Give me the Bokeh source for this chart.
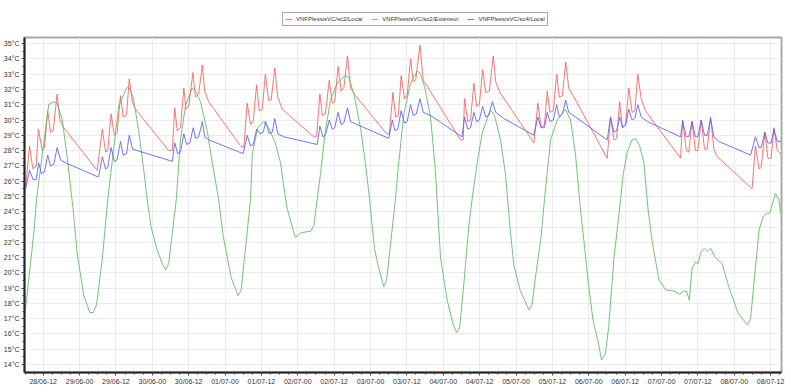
from bokeh.plotting import figure
from bokeh.layouts import column
from bokeh.models import Range1d, FixedTicker, PrintfTickFormatter, Legend, LegendItem, ColumnDataSource
from bokeh.embed import file_html
from bokeh.resources import INLINE

# hours since 28/06 00:00
red_h = [6.2,7.5,8.6,9.7,10.4,11.7,12.4,13.5,14.4,15.3,16.6,17.5,18.8,29.8,31.5,32.6,33.3,34.4,35.5,36.4,37.5,38.4,39.5,40.4,41.4,42.5,
         53.4,54.6,55.4,56.2,57.3,58.4,59.1,60.0,61.4,62.2,63.3,64.5,65.3,66.6,77.1,78.2,79.3,80.4,81.3,82.4,83.3,84.3,85.3,86.4,87.2,88.4,89.4,90.9,
         101.3,102.2,103.3,104.1,105.1,106.4,107.4,108.2,109.3,110.3,111.2,112.4,113.4,115.0,125.3,126.2,127.4,128.3,129.2,130.1,131.2,132.1,133.2,134.1,134.9,136.3,137.4,138.7,
         149.7,150.6,151.0,152.1,153.0,154.1,155.0,155.9,157.0,158.0,159.2,160.5,161.3,162.7,173.9,175.2,176.3,177.4,178.3,179.2,180.3,181.4,182.3,183.3,184.4,185.4,187.1,
         198.1,199.2,200.3,201.2,202.2,203.1,204.2,205.2,206.3,207.2,208.2,209.3,210.7,222.3,223.0,224.2,225.0,226.1,227.2,228.0,229.1,230.2,231.1,232.2,233.3,234.4,
         245.9,247.0,248.2,248.9,250.1,251.1,252.2,253.1,254.2,255.3]
red_t = [25.6,28.3,26.8,27.0,29.4,28.0,28.2,30.6,29.2,29.3,31.7,30.0,29.5,26.7,29.4,27.9,28.0,30.4,29.0,29.2,31.6,30.2,30.3,32.7,31.2,30.7,
         28.0,28.0,30.8,29.3,29.5,32.1,30.7,30.9,33.1,31.5,31.7,33.6,31.9,31.2,28.3,28.2,31.1,29.7,29.9,32.3,30.6,30.7,33.0,31.3,31.3,33.4,31.5,30.7,
         28.9,28.9,31.7,30.3,30.4,32.6,31.1,31.2,33.5,31.9,32.1,34.2,32.1,31.6,29.1,29.1,31.8,30.2,30.3,32.9,31.4,31.6,34.0,32.5,32.6,34.9,32.6,32.2,
         28.7,28.7,31.4,29.9,30.0,32.4,30.9,31.0,33.3,31.8,31.9,34.2,32.5,31.8,28.5,31.1,29.5,29.7,31.9,30.5,30.6,33.0,31.5,31.6,33.8,32.1,31.5,
         27.5,30.2,28.7,28.8,31.2,29.5,29.7,32.1,30.5,30.6,33.0,31.4,30.6,27.5,30.0,28.0,27.9,29.9,28.0,28.0,30.0,28.1,28.1,30.2,28.1,27.6,
         25.5,28.3,26.8,26.9,29.2,27.5,27.5,29.5,28.0,27.8]

green_h = [5.8,7.2,8.9,9.8,12.2,13.8,15.5,16.6,18.3,19.9,21.9,23.2,25.4,27.4,28.5,29.6,31.5,33.3,35.3,36.9,39.5,40.2,41.7,43.5,45.2,46.3,47.6,49.6,51.3,52.4,53.4,54.6,55.9,
           57.3,59.0,61.2,62.3,63.9,66.1,67.8,69.9,71.4,74.0,76.3,77.3,78.7,80.4,81.0,82.8,84.8,86.4,88.6,90.3,91.4,92.5,95.2,96.9,99.1,100.2,101.3,102.4,103.5,105.1,106.8,
           109.0,111.7,112.8,114.5,116.7,118.3,119.7,120.6,121.3,122.7,124.4,125.3,126.4,128.2,129.3,131.0,133.2,135.4,136.3,137.8,139.8,141.4,143.1,145.3,147.3,148.4,149.4,
           150.8,152.4,153.5,155.2,156.8,159.0,159.8,160.9,162.9,164.5,166.2,167.3,169.3,172.2,173.3,174.4,176.3,177.4,179.4,181.6,184.3,186.0,187.6,189.3,190.4,192.0,193.5,
           195.0,196.2,197.5,198.6,200.3,202.5,203.4,204.7,206.3,207.4,208.8,210.2,211.6,212.9,215.1,217.3,220.1,222.0,223.2,224.3,225.2,226.1,227.2,228.0,229.1,230.2,231.1,
           232.2,233.8,236.0,238.2,241.2,244.3,245.4,246.5,248.2,249.6,250.7,251.7,252.6,253.6,254.7,255.3]
green_t = [17.0,19.5,22.6,24.8,28.5,31.0,31.2,31.1,30.0,27.6,24.1,21.3,18.5,17.4,17.4,17.9,20.9,24.8,28.2,30.9,32.1,32.2,31.5,29.3,26.7,24.8,23.0,21.5,20.6,20.2,20.6,22.6,24.8,
           28.7,31.0,32.1,31.9,31.2,29.3,27.2,24.8,22.4,19.7,18.5,18.9,21.5,24.8,27.8,29.5,29.9,29.5,28.5,27.2,25.6,24.2,22.3,22.6,22.7,22.7,23.1,24.8,26.5,29.3,31.3,
           32.4,32.9,32.8,31.7,29.5,27.2,24.8,23.0,21.6,20.3,19.1,19.5,21.5,24.8,27.2,30.4,32.4,33.2,33.1,32.2,30.2,26.7,21.0,18.2,16.6,16.1,16.4,
           19.3,23.0,24.8,27.2,29.1,30.4,30.6,30.3,28.7,26.5,22.6,20.5,18.9,17.6,17.9,19.7,22.4,24.8,28.7,30.0,30.7,30.0,27.8,24.1,22.1,19.1,16.8,
           15.6,14.3,14.7,16.5,20.9,24.8,26.5,27.9,28.7,28.8,28.3,27.2,24.1,22.1,19.6,18.9,18.8,18.6,18.8,18.8,18.2,20.3,20.7,20.6,21.4,21.6,21.4,
           21.6,21.0,20.6,19.1,17.4,16.6,17.0,19.3,22.8,23.7,23.9,23.9,24.5,25.2,24.8,23.9]

blue_h = [6.2,7.5,8.7,9.7,10.5,11.4,12.4,13.5,14.4,15.5,16.6,17.7,19.4,29.8,30.3,31.5,32.6,33.3,34.4,35.5,36.4,37.5,38.4,39.5,40.4,41.5,43.0,
          54.6,55.4,56.4,57.3,58.4,59.3,60.4,61.5,62.3,63.3,64.5,65.3,66.6,78.0,79.3,80.4,81.3,82.4,83.5,84.6,85.4,86.6,87.6,88.4,89.4,91.4,
          102.4,103.3,104.3,105.1,106.4,107.4,108.2,109.3,110.3,111.2,112.4,113.4,115.6,126.0,127.2,128.1,129.0,130.1,131.2,132.1,133.2,134.1,135.1,136.3,137.4,139.8,
          150.2,151.0,152.1,153.0,154.1,155.0,155.9,157.0,158.0,159.0,160.2,161.3,164.0,173.9,175.2,176.3,177.4,178.3,179.2,180.3,181.4,182.3,183.3,184.4,185.4,187.6,
          198.1,199.2,200.3,201.2,202.2,203.2,204.2,205.2,206.3,207.2,208.2,209.3,211.3,222.3,223.0,224.2,225.0,226.1,227.2,228.0,229.1,230.2,231.1,232.2,233.3,234.9,
          245.4,247.0,248.2,248.9,250.1,251.1,252.2,253.1,254.2,255.3]
blue_t = [25.5,26.7,26.1,26.1,27.2,26.5,26.6,27.7,27.0,27.1,28.2,27.4,27.2,26.3,26.3,27.6,26.8,26.9,28.2,27.3,27.4,28.6,27.7,27.8,29.0,28.1,28.0,
          27.3,28.5,27.8,27.9,29.1,28.4,28.5,29.5,28.8,28.9,29.9,28.9,28.7,27.8,29.0,28.3,28.4,29.4,29.1,29.2,29.9,29.1,29.2,30.1,29.1,28.9,
          28.4,29.6,28.9,29.0,30.0,29.4,29.5,30.5,29.7,29.8,30.8,29.9,29.7,28.8,30.0,29.3,29.4,30.6,29.8,29.9,31.0,30.3,30.4,31.4,30.5,30.3,
          28.9,30.2,29.4,29.5,30.5,29.9,30.0,30.9,30.2,30.3,31.2,30.5,30.1,29.0,30.2,29.5,29.5,30.5,29.9,30.0,31.0,30.2,30.4,31.3,30.5,30.2,
          28.7,30.2,29.2,29.3,30.2,29.5,29.7,30.7,30.0,30.1,31.0,30.2,29.9,28.9,29.9,28.9,28.9,29.9,28.9,28.9,30.0,29.0,29.0,30.1,28.9,28.6,
          27.7,28.9,28.2,28.2,29.2,28.5,28.5,29.4,28.6,28.6]

series_names = ["VNFPlessisVC/sc2/Local", "VNFPlessisVC/sc2/Extérieur", "VNFPlessisVC/sc4/Local"]
x_tick_labels = ["28/06-12", "29/06-00", "29/06-12", "30/06-00", "30/06-12", "01/07-00", "01/07-12",
                 "02/07-00", "02/07-12", "03/07-00", "03/07-12", "04/07-00", "04/07-12", "05/07-00",
                 "05/07-12", "06/07-00", "06/07-12", "07/07-00", "07/07-12", "08/07-00", "08/07-12"]
y_ticks = list(range(14, 36))

x_ticks = [12 + 12 * i for i in range(len(x_tick_labels))]
x_minor = [x_ticks[0] - 6 + 3 * i for i in range(int((x_ticks[-1] - x_ticks[0] + 12) / 3) + 2)]

colors = ["#ff5a5a", "#5cb85c", "#5a5aff"]
sources = [ColumnDataSource(dict(x=hh, y=tt))
           for hh, tt in [(red_h, red_t), (green_h, green_t), (blue_h, blue_t)]]

# The page template has no body margin, so the layout starts at (0, 0)
W = 791
TOP_H = 36          # strip holding the legend
MAIN_H = 356
BORDER_L, BORDER_R, BORDER_T, BORDER_B = 24, 10, 1, 20

# ---- legend strip (its ranges keep the series out of view; only the legend shows) ----
top = figure(width=W, height=TOP_H, output_backend="svg", toolbar_location=None,
             x_range=Range1d(-2, -1), y_range=Range1d(-2, -1),
             x_axis_location=None, y_axis_location=None,
             min_border=0, outline_line_color=None,
             background_fill_color="white", border_fill_color="white")
top.xgrid.visible = False
top.ygrid.visible = False
items = []
for src, c, name in zip(sources, colors, series_names):
    r = top.line("x", "y", source=src, line_color=c, line_width=1, line_alpha=0.85)
    items.append(LegendItem(label=name, renderers=[r]))
legend = Legend(items=items, orientation="horizontal", location=(258, TOP_H - 26),
                label_text_font="Liberation Sans", label_text_font_size="6px",
                label_text_color="#333333", glyph_width=7, glyph_height=8,
                label_height=8, label_standoff=4, spacing=9, padding=2, margin=0,
                border_line_color="#555555", border_line_width=1,
                background_fill_color="white")
top.add_layout(legend, "center")

# ---- main chart ----
p = figure(width=W, height=MAIN_H, output_backend="svg", toolbar_location=None,
           x_range=Range1d(5.83, 255.6), y_range=Range1d(13.48, 35.4),
           min_border_left=BORDER_L, min_border_right=BORDER_R,
           min_border_bottom=BORDER_B, min_border_top=BORDER_T,
           background_fill_color="white", border_fill_color="white")

p.outline_line_color = "#a8a8a8"
p.outline_line_width = 2

p.xaxis.ticker = FixedTicker(ticks=x_ticks, minor_ticks=x_minor)
p.xaxis.major_label_overrides = {t: lab for t, lab in zip(x_ticks, x_tick_labels)}
p.yaxis.ticker = FixedTicker(ticks=y_ticks, minor_ticks=[v + 0.5 for v in y_ticks])
p.yaxis.formatter = PrintfTickFormatter(format="%d°C")

for ax in (p.xaxis[0], p.yaxis[0]):
    ax.axis_line_color = "#222222"
    ax.axis_line_width = 2
    ax.major_tick_line_color = "#444444"
    ax.minor_tick_line_color = "#444444"
    ax.major_tick_out = 3
    ax.major_tick_in = 0
    ax.minor_tick_out = 2
    ax.minor_tick_in = 0
    ax.major_label_text_font = "Liberation Sans"
    ax.major_label_text_font_size = "7px"
    ax.major_label_text_color = "#333333"
    ax.major_label_standoff = 2

p.xgrid.ticker = FixedTicker(ticks=x_ticks)
p.ygrid.ticker = FixedTicker(ticks=y_ticks)
p.xgrid.grid_line_color = "#ececec"
p.ygrid.grid_line_color = "#ececec"

for src, c in zip(sources, colors):
    p.line("x", "y", source=src, line_color=c, line_width=1, line_alpha=0.85)

layout = column(top, p, spacing=0)
open("out.html", "w").write(file_html(layout, INLINE))
